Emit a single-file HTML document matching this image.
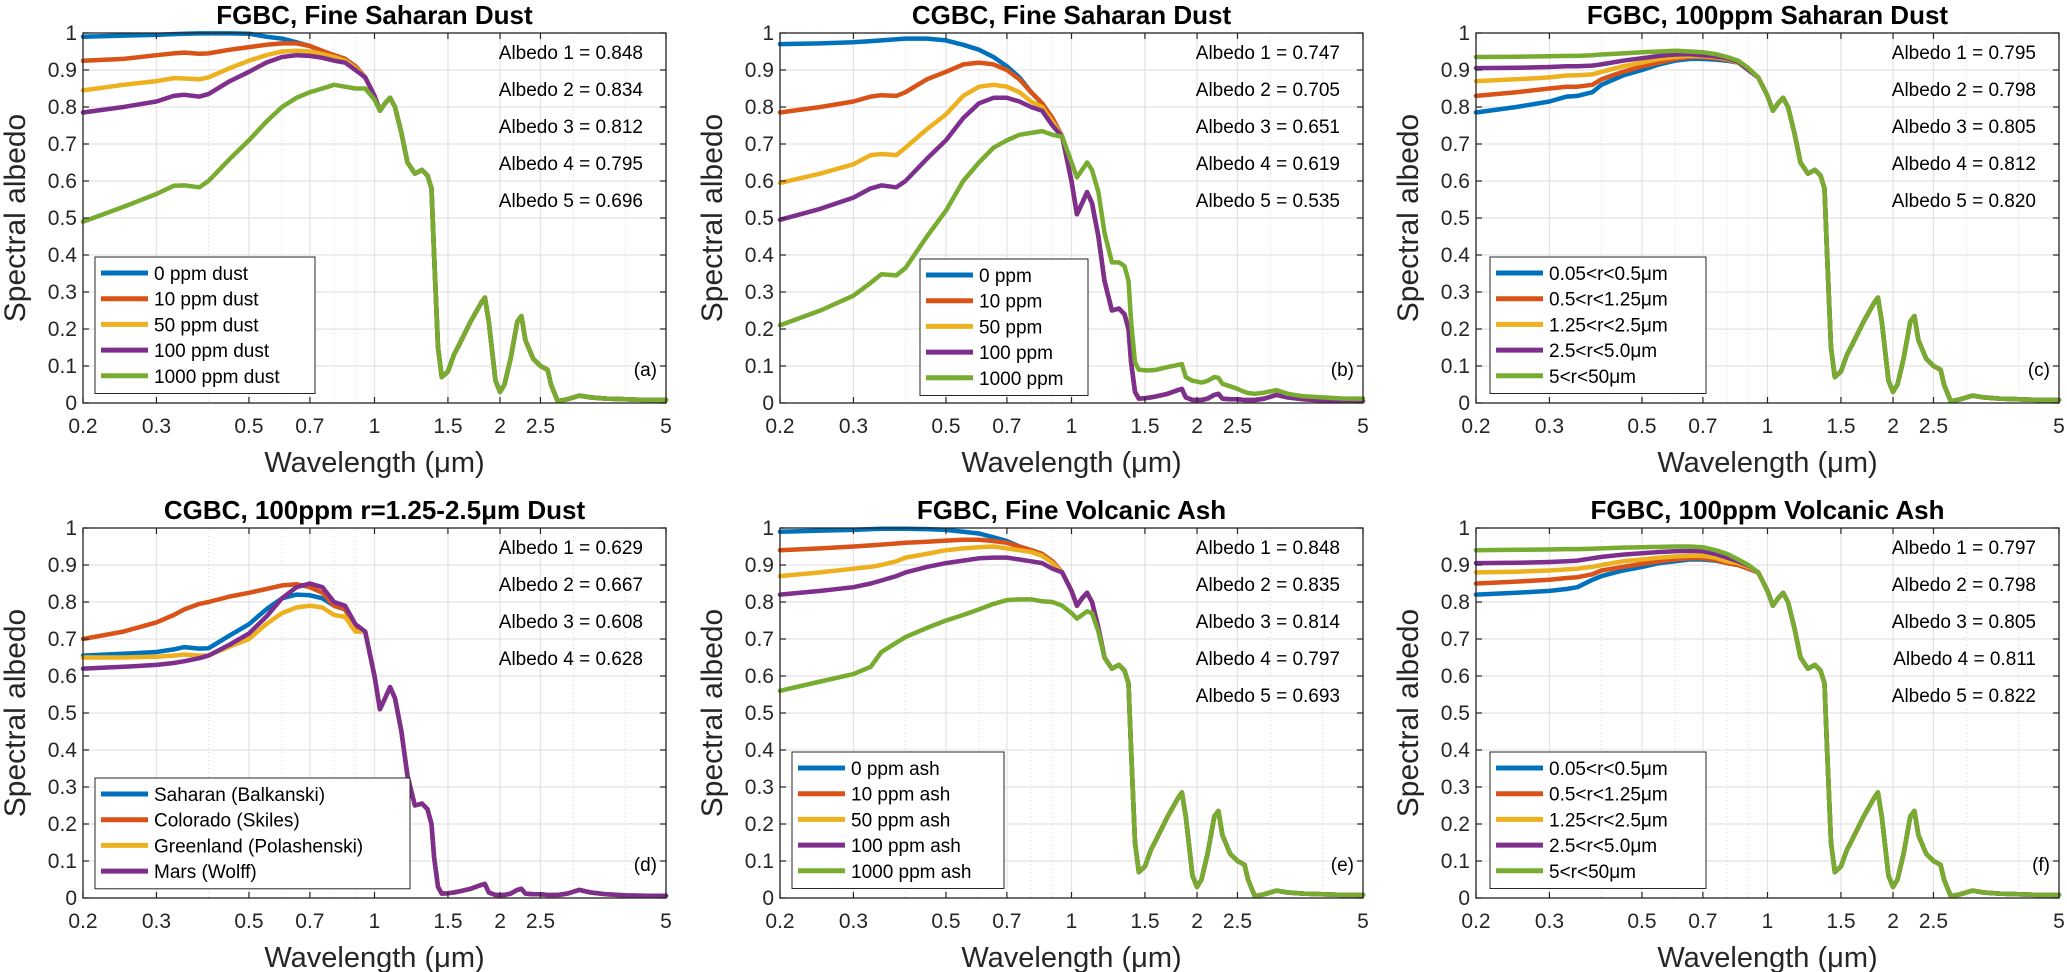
<!DOCTYPE html>
<html><head><meta charset="utf-8">
<style>
html,body{margin:0;padding:0;background:#fff;}
svg{display:block;font-family:"Liberation Sans","DejaVu Sans",sans-serif;}
</style></head>
<body>
<svg id="chart" width="2067" height="972" viewBox="0 0 2067 972" xmlns="http://www.w3.org/2000/svg"></svg>
<script>
// ---- data ----
const xTicks = [0.2,0.3,0.5,0.7,1,1.5,2,2.5,5];
const xTickLabels = ["0.2","0.3","0.5","0.7","1","1.5","2","2.5","5"];
const xMinor = [0.4,0.6,0.8,0.9,3,4];
const yTicks = [0,0.1,0.2,0.3,0.4,0.5,0.6,0.7,0.8,0.9,1];
const yTickLabels = ["0","0.1","0.2","0.3","0.4","0.5","0.6","0.7","0.8","0.9","1"];
const headW = [0.2,0.25,0.3,0.33,0.35,0.38,0.4,0.45,0.5,0.55,0.6,0.65,0.7,0.75,0.8,0.85,0.9];
const tailW = [0.95,1.0,1.03,1.06,1.09,1.12,1.16,1.2,1.25,1.3,1.34,1.37,1.39,1.42,1.45,1.5,1.55,1.6,1.7,1.8,1.84,1.88,1.95,2.0,2.05,2.12,2.2,2.25,2.3,2.4,2.5,2.6,2.65,2.75,2.9,3.1,3.3,3.6,4.0,4.5,5.0];
const fgbcTail = [0.88,0.83,0.79,0.81,0.825,0.8,0.73,0.65,0.62,0.63,0.615,0.58,0.4,0.15,0.07,0.085,0.13,0.16,0.22,0.27,0.285,0.22,0.06,0.03,0.05,0.12,0.22,0.235,0.17,0.12,0.1,0.09,0.05,0.005,0.01,0.02,0.015,0.012,0.01,0.008,0.008];
const aGreenTail = [0.85,0.82,0.79,0.81,0.825,0.8,0.73,0.65,0.62,0.63,0.615,0.58,0.4,0.15,0.07,0.085,0.13,0.16,0.22,0.27,0.285,0.22,0.06,0.03,0.05,0.12,0.22,0.235,0.17,0.12,0.1,0.09,0.05,0.005,0.01,0.02,0.015,0.012,0.01,0.008,0.008];
const eGreenTail = [0.79,0.77,0.755,0.765,0.775,0.77,0.72,0.65,0.62,0.63,0.615,0.58,0.4,0.15,0.07,0.085,0.13,0.16,0.22,0.27,0.285,0.22,0.06,0.03,0.05,0.12,0.22,0.235,0.17,0.12,0.1,0.09,0.05,0.005,0.01,0.02,0.015,0.012,0.01,0.008,0.008];
const cgbcTail = [0.72,0.6,0.51,0.54,0.57,0.54,0.45,0.33,0.25,0.255,0.24,0.2,0.11,0.03,0.012,0.013,0.015,0.018,0.025,0.035,0.038,0.015,0.008,0.008,0.008,0.012,0.022,0.025,0.012,0.01,0.01,0.008,0.008,0.008,0.012,0.022,0.015,0.01,0.007,0.006,0.006];
const cgbcGreenTail = [0.72,0.65,0.61,0.63,0.65,0.63,0.57,0.46,0.38,0.38,0.37,0.33,0.22,0.11,0.09,0.088,0.088,0.09,0.097,0.103,0.105,0.07,0.06,0.058,0.055,0.06,0.07,0.068,0.052,0.045,0.038,0.03,0.027,0.025,0.028,0.035,0.025,0.018,0.015,0.012,0.012];

const aBlue   = [0.99,0.993,0.995,0.997,0.998,0.999,0.999,0.999,0.998,0.99,0.985,0.975,0.965,0.95,0.94,0.93,0.91];
const aRed    = [0.925,0.93,0.94,0.945,0.947,0.944,0.945,0.955,0.962,0.968,0.972,0.972,0.965,0.952,0.94,0.93,0.91];
const aYellow = [0.845,0.86,0.87,0.878,0.877,0.875,0.88,0.905,0.925,0.94,0.95,0.952,0.95,0.943,0.935,0.925,0.905];
const aPurple = [0.785,0.8,0.815,0.83,0.833,0.828,0.835,0.87,0.895,0.92,0.935,0.94,0.938,0.933,0.925,0.92,0.9];
const aGreen  = [0.49,0.53,0.565,0.587,0.588,0.583,0.6,0.66,0.71,0.76,0.8,0.825,0.84,0.85,0.86,0.855,0.85];

const bBlue   = [0.97,0.972,0.975,0.978,0.98,0.983,0.985,0.985,0.98,0.968,0.955,0.935,0.91,0.88,0.84,0.81,0.77];
const bRed    = [0.785,0.8,0.815,0.828,0.832,0.83,0.84,0.875,0.895,0.915,0.92,0.915,0.9,0.875,0.84,0.81,0.77];
const bYellow = [0.595,0.62,0.645,0.67,0.673,0.67,0.69,0.74,0.78,0.83,0.855,0.86,0.855,0.84,0.815,0.8,0.76];
const bPurple = [0.495,0.525,0.555,0.58,0.588,0.583,0.6,0.66,0.71,0.77,0.81,0.825,0.825,0.815,0.8,0.79,0.75];
const bGreen  = [0.21,0.25,0.29,0.325,0.348,0.345,0.365,0.45,0.52,0.6,0.65,0.69,0.71,0.725,0.73,0.735,0.725];

const cBlue   = [0.785,0.8,0.815,0.828,0.83,0.84,0.86,0.885,0.9,0.915,0.925,0.93,0.93,0.928,0.925,0.92,0.9];
const cRed    = [0.83,0.84,0.85,0.855,0.855,0.86,0.875,0.895,0.91,0.92,0.93,0.935,0.935,0.932,0.928,0.92,0.9];
const cYellow = [0.87,0.875,0.88,0.885,0.886,0.888,0.895,0.91,0.92,0.93,0.935,0.938,0.937,0.935,0.93,0.92,0.9];
const cPurple = [0.905,0.906,0.908,0.91,0.91,0.912,0.915,0.925,0.932,0.938,0.942,0.943,0.94,0.937,0.932,0.922,0.9];
const cGreen  = [0.935,0.936,0.937,0.938,0.938,0.94,0.942,0.945,0.948,0.95,0.952,0.95,0.948,0.943,0.935,0.925,0.905];

const dBlue   = [0.655,0.66,0.665,0.672,0.678,0.674,0.675,0.71,0.74,0.78,0.81,0.82,0.818,0.81,0.79,0.78,0.73];
const dRed    = [0.7,0.72,0.745,0.765,0.78,0.795,0.8,0.815,0.825,0.835,0.845,0.848,0.84,0.825,0.79,0.78,0.73];
const dYellow = [0.65,0.65,0.652,0.655,0.658,0.655,0.655,0.68,0.7,0.74,0.77,0.785,0.79,0.785,0.765,0.76,0.72];
const dPurple = [0.62,0.625,0.63,0.635,0.64,0.648,0.655,0.685,0.715,0.76,0.81,0.84,0.85,0.84,0.8,0.79,0.74];

const eBlue   = [0.99,0.993,0.995,0.997,0.998,0.998,0.998,0.997,0.995,0.99,0.985,0.975,0.965,0.95,0.94,0.93,0.91];
const eRed    = [0.94,0.945,0.95,0.953,0.955,0.958,0.96,0.963,0.966,0.968,0.968,0.965,0.96,0.95,0.94,0.93,0.91];
const eYellow = [0.87,0.88,0.89,0.895,0.9,0.91,0.92,0.93,0.94,0.945,0.948,0.95,0.945,0.94,0.935,0.925,0.905];
const ePurple = [0.82,0.83,0.84,0.85,0.858,0.87,0.88,0.895,0.905,0.912,0.918,0.92,0.92,0.915,0.91,0.905,0.89];
const eGreen  = [0.56,0.585,0.605,0.625,0.665,0.69,0.705,0.73,0.75,0.765,0.78,0.795,0.805,0.807,0.807,0.802,0.8];

const fBlue   = [0.82,0.825,0.83,0.835,0.84,0.86,0.87,0.885,0.895,0.905,0.91,0.915,0.915,0.912,0.905,0.9,0.89];
const fRed    = [0.85,0.855,0.86,0.865,0.867,0.875,0.885,0.895,0.903,0.91,0.915,0.918,0.918,0.914,0.905,0.9,0.89];
const fYellow = [0.88,0.882,0.885,0.888,0.89,0.895,0.9,0.91,0.915,0.92,0.923,0.925,0.925,0.92,0.91,0.905,0.895];
const fPurple = [0.905,0.906,0.908,0.91,0.912,0.918,0.922,0.928,0.932,0.935,0.937,0.938,0.937,0.93,0.92,0.91,0.898];
const fGreen  = [0.94,0.941,0.942,0.943,0.943,0.944,0.945,0.947,0.948,0.949,0.95,0.95,0.948,0.94,0.93,0.915,0.9];

const colors = ["#0072BD","#D95319","#EDB120","#7E2F8E","#77AC30"];

const panels = [
 {id:"a",left:83,top:33,title:"FGBC, Fine Saharan Dust",
  albedo:["0.848","0.834","0.812","0.795","0.696"],
  labels:["0 ppm dust","10 ppm dust","50 ppm dust","100 ppm dust","1000 ppm dust"],
  legend:{x:95,y:257,w:220},
  series:[[aBlue,fgbcTail],[aRed,fgbcTail],[aYellow,fgbcTail],[aPurple,fgbcTail],[aGreen,aGreenTail]]},
 {id:"b",left:780,top:33,title:"CGBC, Fine Saharan Dust",
  albedo:["0.747","0.705","0.651","0.619","0.535"],
  labels:["0 ppm","10 ppm","50 ppm","100 ppm","1000 ppm"],
  legend:{x:920,y:259,w:168},
  series:[[bBlue,cgbcTail],[bRed,cgbcTail],[bYellow,cgbcTail],[bPurple,cgbcTail],[bGreen,cgbcGreenTail]]},
 {id:"c",left:1476,top:33,title:"FGBC, 100ppm Saharan Dust",
  albedo:["0.795","0.798","0.805","0.812","0.820"],
  labels:["0.05<r<0.5μm","0.5<r<1.25μm","1.25<r<2.5μm","2.5<r<5.0μm","5<r<50μm"],
  legend:{x:1490,y:257,w:216},
  series:[[cBlue,fgbcTail],[cRed,fgbcTail],[cYellow,fgbcTail],[cPurple,fgbcTail],[cGreen,fgbcTail]]},
 {id:"d",left:83,top:528,title:"CGBC, 100ppm r=1.25-2.5μm Dust",
  albedo:["0.629","0.667","0.608","0.628"],
  labels:["Saharan (Balkanski)","Colorado (Skiles)","Greenland (Polashenski)","Mars (Wolff)"],
  legend:{x:95,y:778,w:315},
  series:[[dBlue,cgbcTail],[dRed,cgbcTail],[dYellow,cgbcTail],[dPurple,cgbcTail]]},
 {id:"e",left:780,top:528,title:"FGBC, Fine Volcanic Ash",
  albedo:["0.848","0.835","0.814","0.797","0.693"],
  labels:["0 ppm ash","10 ppm ash","50 ppm ash","100 ppm ash","1000 ppm ash"],
  legend:{x:792,y:752,w:212},
  series:[[eBlue,fgbcTail],[eRed,fgbcTail],[eYellow,fgbcTail],[ePurple,fgbcTail],[eGreen,eGreenTail]]},
 {id:"f",left:1476,top:528,title:"FGBC, 100ppm Volcanic Ash",
  albedo:["0.797","0.798","0.805","0.811","0.822"],
  labels:["0.05<r<0.5μm","0.5<r<1.25μm","1.25<r<2.5μm","2.5<r<5.0μm","5<r<50μm"],
  legend:{x:1490,y:752,w:216},
  series:[[fBlue,fgbcTail],[fRed,fgbcTail],[fYellow,fgbcTail],[fPurple,fgbcTail],[fGreen,fgbcTail]]}
];

const W = 583, H = 370;
const NS = "http://www.w3.org/2000/svg";
const svg = document.getElementById("chart");
function mk(tag, attrs, parent, text){
  const e = document.createElementNS(NS, tag);
  for (const k in attrs) e.setAttribute(k, attrs[k]);
  if (text !== undefined) e.textContent = text;
  parent.appendChild(e);
  return e;
}

panels.forEach(p => {
  const xs = w => p.left + W * Math.log(w/0.2) / Math.log(25);
  const ys = v => p.top + H * (1 - v);
  const g = mk("g", {}, svg);
  
  
  mk("rect", {x:p.left,y:p.top,width:W,height:H,fill:"#fff"}, g);
  yTicks.forEach(v => {
    const l = mk("line",{x1:p.left,x2:p.left+W,y1:ys(v),y2:ys(v),stroke:"#e3e3e3","stroke-width":1.2}, g);
    
    
  });
  xTicks.forEach(w => {
    const l = mk("line",{x1:xs(w),x2:xs(w),y1:p.top,y2:p.top+H,stroke:"#e3e3e3","stroke-width":1.2}, g);
    
    
  });
  xMinor.forEach(w => {
    const l = mk("line",{x1:xs(w),x2:xs(w),y1:p.top,y2:p.top+H,stroke:"#d6d6d6","stroke-width":1,"stroke-dasharray":"1,3"}, g);
    
    
  });
  p.series.forEach((s, i) => {
    const pts = [];
    headW.forEach((w, k) => pts.push(xs(w).toFixed(1)+","+ys(s[0][k]).toFixed(1)));
    tailW.forEach((w, k) => pts.push(xs(w).toFixed(1)+","+ys(s[1][k]).toFixed(1)));
    const pl = mk("polyline",{points:pts.join(" "),fill:"none",stroke:colors[i],"stroke-width":4.5,"stroke-linejoin":"round","stroke-linecap":"round"}, g);
    
    
  });
  const box = mk("rect",{x:p.left,y:p.top,width:W,height:H,fill:"none",stroke:"#262626","stroke-width":1.3}, g);
  
  
  yTicks.forEach((v, k) => {
    mk("line",{x1:p.left,x2:p.left+6,y1:ys(v),y2:ys(v),stroke:"#262626","stroke-width":1.2}, g);
    mk("line",{x1:p.left+W-6,x2:p.left+W,y1:ys(v),y2:ys(v),stroke:"#262626","stroke-width":1.2}, g);
    const t = mk("text",{x:p.left-6,y:ys(v)+7,"text-anchor":"end","font-size":21,fill:"#262626"}, g, yTickLabels[k]);
    
    
  });
  xTicks.forEach((w, k) => {
    mk("line",{x1:xs(w),x2:xs(w),y1:p.top+H,y2:p.top+H-6,stroke:"#262626","stroke-width":1.2}, g);
    mk("line",{x1:xs(w),x2:xs(w),y1:p.top,y2:p.top+6,stroke:"#262626","stroke-width":1.2}, g);
    const t = mk("text",{x:xs(w),y:p.top+H+30,"text-anchor":"middle","font-size":21,fill:"#262626"}, g, xTickLabels[k]);
    
    
  });
  const tt = mk("text",{x:p.left+W/2,y:p.top-9,"text-anchor":"middle","font-size":26,"font-weight":"bold",fill:"#000"}, g, p.title);
  
  
  const xl = mk("text",{x:p.left+W/2,y:p.top+H+69,"text-anchor":"middle","font-size":29,fill:"#262626"}, g, "Wavelength (μm)");
  
  
  const yl = mk("text",{x:0,y:0,"text-anchor":"middle","font-size":30,fill:"#262626",transform:"translate("+(p.left-58)+","+(p.top+H/2)+") rotate(-90)"}, g, "Spectral albedo");
  
  
  p.albedo.forEach((a, k) => {
    const t = mk("text",{x:p.left+W-23,y:p.top+26+37*k,"text-anchor":"end","font-size":19,fill:"#000"}, g, "Albedo "+(k+1)+" = "+a);
    
    
  });
  const pl = mk("text",{x:p.left+W-9,y:p.top+H-27,"text-anchor":"end","font-size":19,fill:"#000"}, g, "("+p.id+")");
  
  
  const n = p.labels.length;
  const lg = mk("g", {}, g);
  
  
  mk("rect",{x:p.legend.x,y:p.legend.y,width:p.legend.w,height:n*25.7+8,fill:"#fff",stroke:"#262626","stroke-width":1}, lg);
  p.labels.forEach((lab, k) => {
    const cy = p.legend.y + 16 + 25.7*k;
    const ln = mk("line",{x1:p.legend.x+6,x2:p.legend.x+53,y1:cy,y2:cy,stroke:colors[k],"stroke-width":5}, lg);
    
    
    const t = mk("text",{x:p.legend.x+59,y:cy+7,"font-size":19,fill:"#000"}, lg, lab);
    
    
  });
});
</script>
</body></html>
